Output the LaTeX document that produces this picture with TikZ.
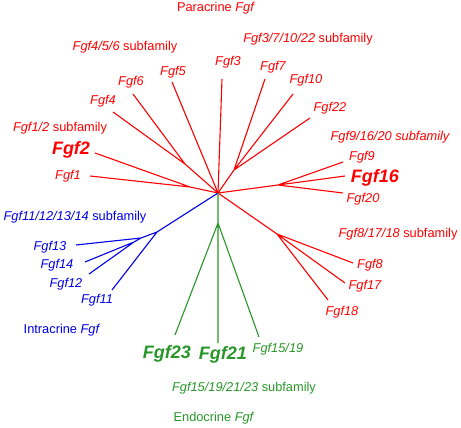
\documentclass[tikz,border=0pt]{standalone}
\usepackage{fontspec}
\setmainfont{Liberation Sans}
\definecolor{fred}{RGB}{255,0,0}
\definecolor{fblue}{RGB}{0,0,230}
\definecolor{fgreen}{RGB}{40,150,40}
\begin{document}
\begin{tikzpicture}[x=1pt,y=-1pt,
  br/.style={line width=1.1pt},
  lab/.style={font=\fontsize{12.8}{14}\selectfont\itshape, inner sep=0pt},
  big/.style={font=\fontsize{18}{20}\selectfont\bfseries\itshape, inner sep=0pt}]
\useasboundingbox (0,0) rectangle (461,428);
% junctions
\coordinate (root) at (218,193);
\coordinate (j456) at (185,164);
\coordinate (j12) at (190,187);
\coordinate (j7) at (234,170);
\coordinate (j9) at (278,185);
\coordinate (j8) at (277,234);
\coordinate (jb0) at (157,232);
\coordinate (jb1) at (141,238);
\coordinate (jb2) at (134,242);
\coordinate (jg) at (218,223);
% leaf ends
\coordinate (e4) at (113,112);
\coordinate (e6) at (133,94);
\coordinate (e5) at (172,82);
\coordinate (e3) at (222,79);
\coordinate (e7) at (265,79);
\coordinate (e10) at (293,94);
\coordinate (e22) at (310,118);
\coordinate (e2) at (95,153);
\coordinate (e1) at (90,176);
\coordinate (e9) at (343,162);
\coordinate (e16) at (345,176);
\coordinate (e20) at (343,193);
\coordinate (e8) at (353,263);
\coordinate (e17) at (345,283);
\coordinate (e18) at (328,300);
\coordinate (e13) at (76,245);
\coordinate (e14) at (85,262);
\coordinate (e12) at (89,274);
\coordinate (e11) at (112,290);
\coordinate (e23) at (175,335);
\coordinate (e21) at (218,343);
\coordinate (e15) at (259,337);
% red branches
\draw[br, fred] (root) -- (j456) (j456) -- (e4) (j456) -- (e6) (root) -- (e5);
\draw[br, fred] (root) -- (e3);
\draw[br, fred] (root) -- (j7) (j7) -- (e7) (j7) -- (e10) (j7) -- (e22);
\draw[br, fred] (root) -- (j12) (j12) -- (e2) (j12) -- (e1);
\draw[br, fred] (root) -- (j9) (j9) -- (e9) (j9) -- (e16) (j9) -- (e20);
\draw[br, fred] (root) -- (j8) (j8) -- (e8) (j8) -- (e17) (j8) -- (e18);
% blue branches
\draw[br, fblue] (root) -- (jb0) (jb0) -- (e11) (jb0) -- (jb1) (jb1) -- (e13) (jb1) -- (jb2) (jb2) -- (e14) (jb2) -- (e12);
% green branches
\draw[br, fgreen] (root) -- (jg) (jg) -- (e23) (jg) -- (e21) (jg) -- (e15);
% red labels
\node[lab, fred, font=\fontsize{12.8}{14}\selectfont] (tpara) at (216,8) {Paracrine \textit{Fgf}};
\node[lab, fred] (t456) at (125,47) {Fgf4/5/6 \upshape subfamily};
\node[lab, fred] (t3722) at (308,39) {Fgf3/7/10/22 \upshape subfamily};
\node[lab, fred] (l6) at (131,82) {Fgf6};
\node[lab, fred] (l5) at (173,72) {Fgf5};
\node[lab, fred] (l4) at (103,101) {Fgf4};
\node[lab, fred] (l3) at (228,62) {Fgf3};
\node[lab, fred] (l7) at (273,67) {Fgf7};
\node[lab, fred] (l10) at (306,80) {Fgf10};
\node[lab, fred] (l22) at (330,108) {Fgf22};
\node[lab, fred] (t12) at (60,128) {Fgf1/2 \upshape subfamily};
\node[big, fred] (l2) at (71,150) {Fgf2};
\node[lab, fred] (l1) at (68,176) {Fgf1};
\node[lab, fred] (t91620) at (390,137) {Fgf9/16/20 subfamily};
\node[lab, fred] (l9) at (362,157) {Fgf9};
\node[big, fred] (l16) at (375,178) {Fgf16};
\node[lab, fred] (l20) at (363,199) {Fgf20};
\node[lab, fred] (t81718) at (398,234) {Fgf8/17/18 \upshape subfamily};
\node[lab, fred] (l8) at (370,265) {Fgf8};
\node[lab, fred] (l17) at (365,286) {Fgf17};
\node[lab, fred] (l18) at (342,312) {Fgf18};
% blue labels
\node[lab, fblue] (tb) at (75,217) {Fgf11/12/13/14 \upshape subfamily};
\node[lab, fblue] (l13) at (50,247) {Fgf13};
\node[lab, fblue] (l14) at (57,265) {Fgf14};
\node[lab, fblue] (l12) at (66,284) {Fgf12};
\node[lab, fblue] (l11) at (97,300) {Fgf11};
\node[lab, fblue, font=\fontsize{12.8}{14}\selectfont] (tintra) at (62,330) {Intracrine \textit{Fgf}};
% green labels
\node[big, fgreen] (l23) at (167,354) {Fgf23};
\node[big, fgreen] (l21) at (223,355) {Fgf21};
\node[lab, fgreen] (l15) at (278,349) {Fgf15/19};
\node[lab, fgreen] (tg) at (244,388) {Fgf15/19/21/23 \upshape subfamily};
\node[lab, fgreen, font=\fontsize{12.8}{14}\selectfont] (tendo) at (214,418) {Endocrine \textit{Fgf}};
\end{tikzpicture}
\end{document}
